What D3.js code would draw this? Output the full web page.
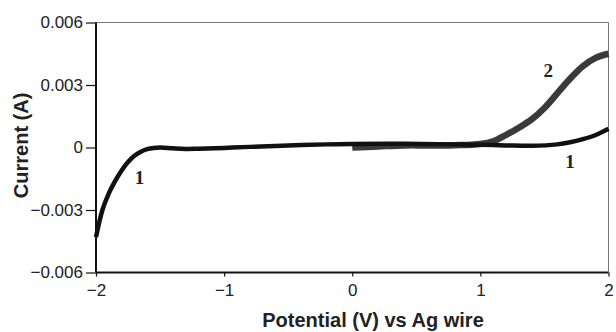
<!DOCTYPE html>
<html>
<head>
<meta charset="utf-8">
<script src="https://cdn.jsdelivr.net/npm/d3@7"></script>
<style>
  body { margin: 0; background: #fff; }
</style>
</head>
<body>
<div id="chart"></div>
<script>
// curve 1: full sweep -2..2 V
var potential1 = [-2.0, -1.95, -1.9, -1.85, -1.8, -1.75, -1.7, -1.65, -1.6, -1.55, -1.5, -1.4, -1.3, -1.2, -1.0, -0.8, -0.5, -0.2, 0.0, 0.4, 0.8, 1.0, 1.2, 1.4, 1.6, 1.7, 1.8, 1.9, 2.0];
var current1 = [-0.0043, -0.0030, -0.0022, -0.0016, -0.0011, -0.0007, -0.0004, -0.0002, -0.00008, -0.00002, 0.0, -0.00004, -0.00007, -0.00006, -0.00002, 0.00003, 0.0001, 0.00015, 0.00017, 0.00018, 0.00015, 0.00013, 0.0001, 0.00008, 0.00015, 0.00025, 0.0004, 0.0006, 0.0009];
// curve 2: 0..2 V
var potential2 = [0.0, 0.2, 0.4, 0.6, 0.8, 1.0, 1.1, 1.2, 1.3, 1.4, 1.5, 1.6, 1.7, 1.8, 1.9, 2.0];
var current2 = [0.0, 0.00005, 0.0001, 0.0001, 0.00011, 0.00017, 0.0003, 0.0006, 0.00095, 0.00135, 0.0019, 0.0026, 0.0033, 0.0039, 0.0043, 0.0045];
var xTicks = [-2, -1, 0, 1, 2];
var yTicks = [-0.006, -0.003, 0, 0.003, 0.006];

var width = 616, height = 332;
var margin = { left: 96, right: 7.5, top: 22.5, bottom: 59.5 };
var sans = 'Arial, "Liberation Sans", sans-serif';

var svg = d3.select('#chart').append('svg')
  .attr('width', width)
  .attr('height', height)
  .attr('font-family', sans);

var x = d3.scaleLinear().domain([-2, 2]).range([margin.left, width - margin.right]);
var y = d3.scaleLinear().domain([-0.006, 0.006]).range([height - margin.bottom, margin.top]);

// frame top/right (thin grey)
svg.append('line')
  .attr('x1', x(-2)).attr('x2', x(2)).attr('y1', y(0.006)).attr('y2', y(0.006))
  .attr('stroke', '#777').attr('stroke-width', 1);
svg.append('line')
  .attr('x1', x(2)).attr('x2', x(2)).attr('y1', y(0.006)).attr('y2', y(-0.006))
  .attr('stroke', '#777').attr('stroke-width', 1);

function fmtY(d) {
  if (d === 0) return '0';
  return d3.format('.3f')(d).replace('-', '\u2212');
}

var xAxis = svg.append('g')
  .attr('transform', 'translate(0,' + y(-0.006) + ')')
  .call(d3.axisBottom(x).tickValues(xTicks).tickSize(4).tickPadding(7)
    .tickFormat(function (d) { return String(d).replace('-', '\u2212'); }));
var yAxis = svg.append('g')
  .attr('transform', 'translate(' + x(-2) + ',0)')
  .call(d3.axisLeft(y).tickValues(yTicks).tickSize(10).tickPadding(3).tickFormat(fmtY));

[xAxis, yAxis].forEach(function (g) {
  g.attr('font-size', 17).attr('font-family', sans);
  g.select('.domain').attr('stroke', '#111').attr('stroke-width', 2);
  g.selectAll('.tick line').attr('stroke', '#111').attr('stroke-width', 1.2);
  g.selectAll('.tick text').attr('fill', '#222').style('font-size', '17px');
});
xAxis.select('.domain').attr('d', 'M' + x(-2) + ',0H' + x(2));
yAxis.select('.domain').attr('d', 'M0,' + y(-0.006) + 'V' + y(0.006));

var line = d3.line()
  .x(function (d) { return x(d[0]); })
  .y(function (d) { return y(d[1]); })
  .curve(d3.curveCatmullRom.alpha(0.5));

var data1 = potential1.map(function (v, i) { return [v, current1[i]]; });
var data2 = potential2.map(function (v, i) { return [v, current2[i]]; });

svg.append('path')
  .datum(data2)
  .attr('d', line)
  .attr('fill', 'none')
  .attr('stroke', '#3a3a3a')
  .attr('stroke-width', 6.5);

svg.append('path')
  .datum(data1)
  .attr('d', line)
  .attr('fill', 'none')
  .attr('stroke', '#111')
  .attr('stroke-width', 4.5);

// curve labels
var labels = [
  { t: '2', v: 1.53, i: 0.00337 },
  { t: '1', v: 1.70, i: -0.00097 },
  { t: '1', v: -1.66, i: -0.00175 }
];
svg.selectAll('.clabel')
  .data(labels)
  .enter()
  .append('text')
  .attr('class', 'clabel')
  .attr('x', function (d) { return x(d.v); })
  .attr('y', function (d) { return y(d.i); })
  .attr('text-anchor', 'middle')
  .attr('font-family', '"Liberation Serif", "DejaVu Serif", serif')
  .attr('font-weight', 'bold')
  .attr('font-size', 19)
  .attr('fill', '#222')
  .text(function (d) { return d.t; });

// axis titles
svg.append('text')
  .attr('x', 373)
  .attr('y', 327)
  .attr('text-anchor', 'middle')
  .attr('font-size', 20)
  .attr('font-weight', 'bold')
  .attr('fill', '#222')
  .text('Potential (V) vs Ag wire');

svg.append('text')
  .attr('transform', 'translate(28,' + y(0.0001) + ') rotate(-90)')
  .attr('text-anchor', 'middle')
  .attr('font-size', 20)
  .attr('font-weight', 'bold')
  .attr('fill', '#222')
  .text('Current  (A)');
</script>
</body>
</html>
